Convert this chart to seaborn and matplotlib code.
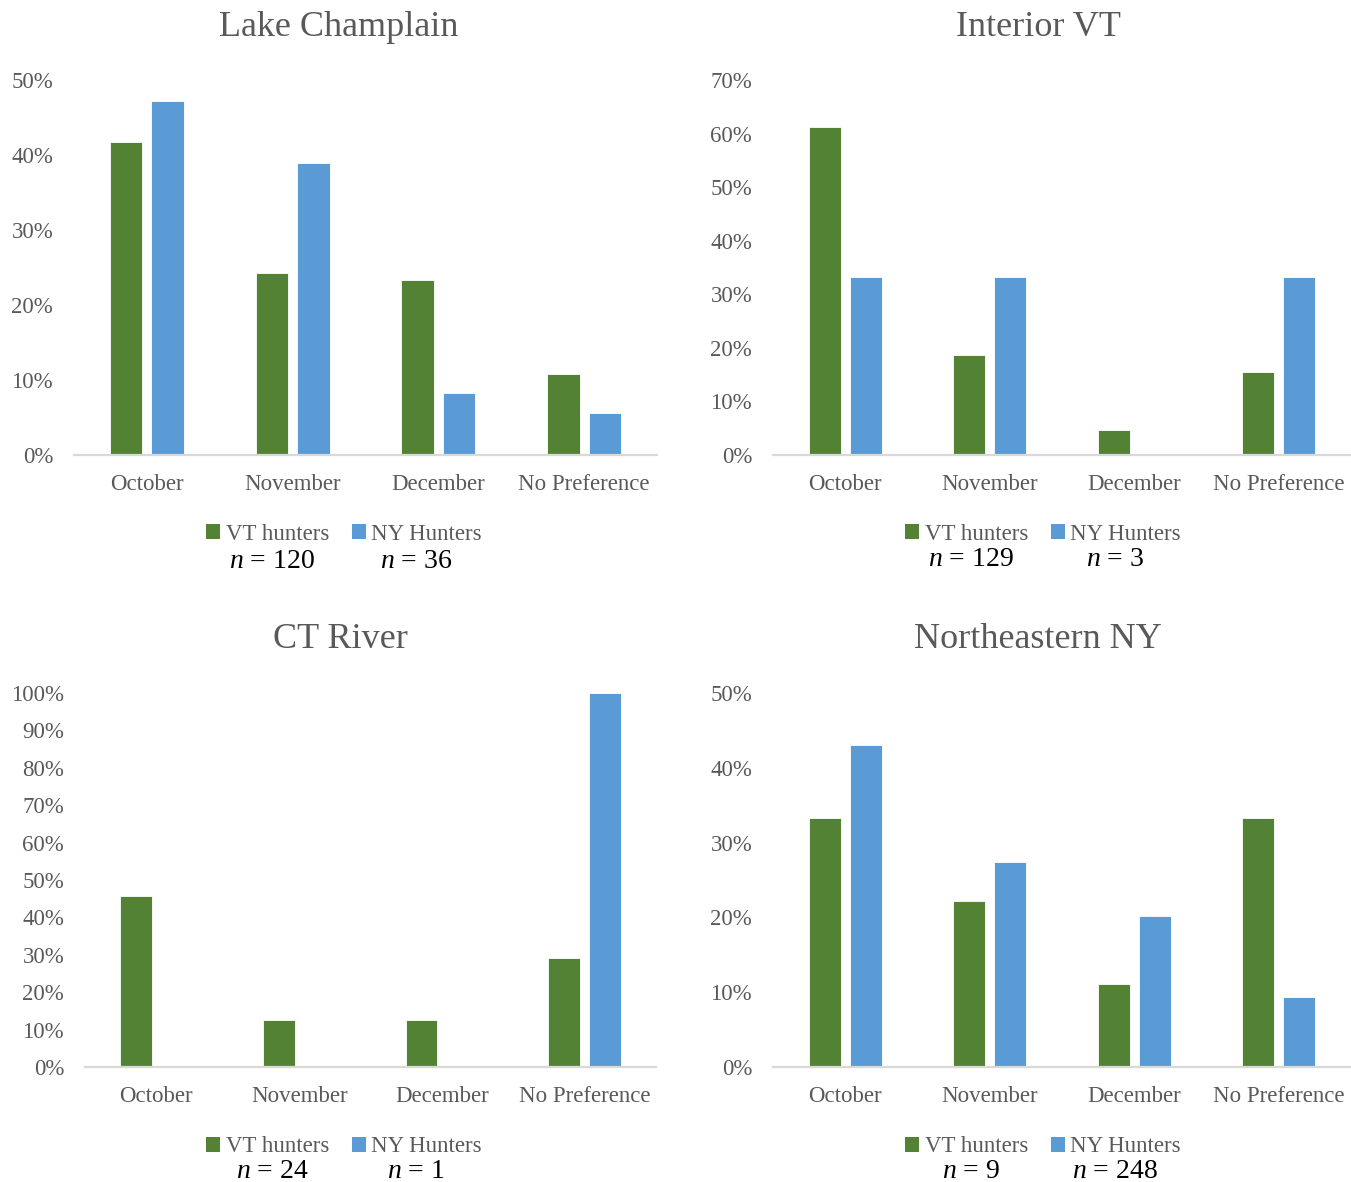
import matplotlib
matplotlib.use("Agg")
import matplotlib.pyplot as plt
from matplotlib.patches import Patch
import seaborn as sns
import pandas as pd

sns.set_theme(style="white")
plt.rcParams["font.family"] = ["Liberation Serif", "DejaVu Serif"]
plt.rcParams["mathtext.fontset"] = "custom"
plt.rcParams["mathtext.rm"] = "Liberation Serif"
plt.rcParams["mathtext.it"] = "Liberation Serif:italic"

# ---- data -------------------------------------------------------------
months = ["October", "November", "December", "No Preference"]
groups = ["VT hunters", "NY Hunters"]

regions = ["Lake Champlain", "Interior VT", "CT River", "Northeastern NY"]

# percent of hunters preferring each month
vt_lake_champlain = [41.7, 24.2, 23.3, 10.8]
ny_lake_champlain = [47.2, 38.9, 8.3, 5.6]
vt_interior_vt = [61.2, 18.6, 4.7, 15.5]
ny_interior_vt = [33.3, 33.3, 0.0, 33.3]
vt_ct_river = [45.8, 12.5, 12.5, 29.2]
ny_ct_river = [0.0, 0.0, 0.0, 100.0]
vt_ne_ny = [33.3, 22.2, 11.1, 33.3]
ny_ne_ny = [43.1, 27.4, 20.2, 9.3]

# sample sizes (VT, NY)
n_lake_champlain = [120, 36]
n_interior_vt = [129, 3]
n_ct_river = [24, 1]
n_ne_ny = [9, 248]

y_max = [50, 70, 100, 50]

series = [
    (vt_lake_champlain, ny_lake_champlain, n_lake_champlain),
    (vt_interior_vt, ny_interior_vt, n_interior_vt),
    (vt_ct_river, ny_ct_river, n_ct_river),
    (vt_ne_ny, ny_ne_ny, n_ne_ny),
]

# ---- styling ------------------------------------------------------------
GREEN = "#548235"
BLUE = "#5B9BD5"
GREY = "#595959"
palette = {groups[0]: GREEN, groups[1]: BLUE}

W, H = 1351, 1182
fig = plt.figure(figsize=(W / 100, H / 100), dpi=100)

# axes boxes in pixels: left, right, top, bottom
boxes = [
    (74, 657, 80, 455),
    (773, 1351, 80, 455),
    (85, 656, 693, 1067),
    (773, 1351, 693, 1067),
]
title_pos = [(339, 28), (1038, 28), (340, 640), (1038, 640)]
legend_pos = [(344, 534), (1043, 534), (344, 1147), (1043, 1147)]
n_y = [561, 559, 1171, 1171]

for i, (region, (vt, ny, ns)) in enumerate(zip(regions, series)):
    l, r, t, b = boxes[i]
    ax = fig.add_axes([l / W, 1 - b / H, (r - l) / W, (b - t) / H])
    df = pd.DataFrame({
        "month": months * 2,
        "pct": vt + ny,
        "group": [groups[0]] * 4 + [groups[1]] * 4,
    })
    sns.barplot(data=df, x="month", y="pct", hue="group", order=months,
                hue_order=groups, palette=palette, width=0.57, gap=0.22,
                edgecolor="white", linewidth=0.6, legend=False, ax=ax,
                errorbar=None, saturation=1)
    ax.set_xlim(-0.5, 3.5)
    ax.set_ylim(0, y_max[i])
    ax.set_yticks(range(0, y_max[i] + 1, 10))
    ax.set_yticklabels([f"{v}%" for v in range(0, y_max[i] + 1, 10)])
    ax.set_xlabel("")
    ax.set_ylabel("")
    for s in ["top", "right", "left"]:
        ax.spines[s].set_visible(False)
    ax.spines["bottom"].set_color("#d9d9d9")
    ax.spines["bottom"].set_linewidth(1.6)
    ax.spines["bottom"].set_zorder(5)
    ax.tick_params(axis="both", length=0, colors=GREY, labelsize=16.5)
    ax.tick_params(axis="y", pad=15)
    ax.tick_params(axis="x", pad=14)
    ax.grid(False)
    ax.set_facecolor("none")

    tx, ty = title_pos[i]
    fig.text(tx / W, 1 - ty / H, region, ha="center", va="center",
             fontsize=26, color=GREY)

    lx, ly = legend_pos[i]
    handles = [Patch(facecolor=GREEN, edgecolor="none"),
               Patch(facecolor=BLUE, edgecolor="none")]
    ax.legend(handles, groups, loc="center",
              bbox_to_anchor=(lx / W, 1 - ly / H),
              bbox_transform=fig.transFigure, ncol=2, frameon=False,
              handlelength=0.6, handleheight=0.6, handletextpad=0.25,
              columnspacing=1.0, fontsize=16.5, labelcolor=GREY,
              borderpad=0, borderaxespad=0)

    for j, off in enumerate([-72, 72]):
        fig.text((lx + off) / W, 1 - n_y[i] / H, f"$n$ = {ns[j]}",
                 ha="center", va="center", fontsize=20, color="black")

fig.savefig("out.png", dpi=100, facecolor="white")
